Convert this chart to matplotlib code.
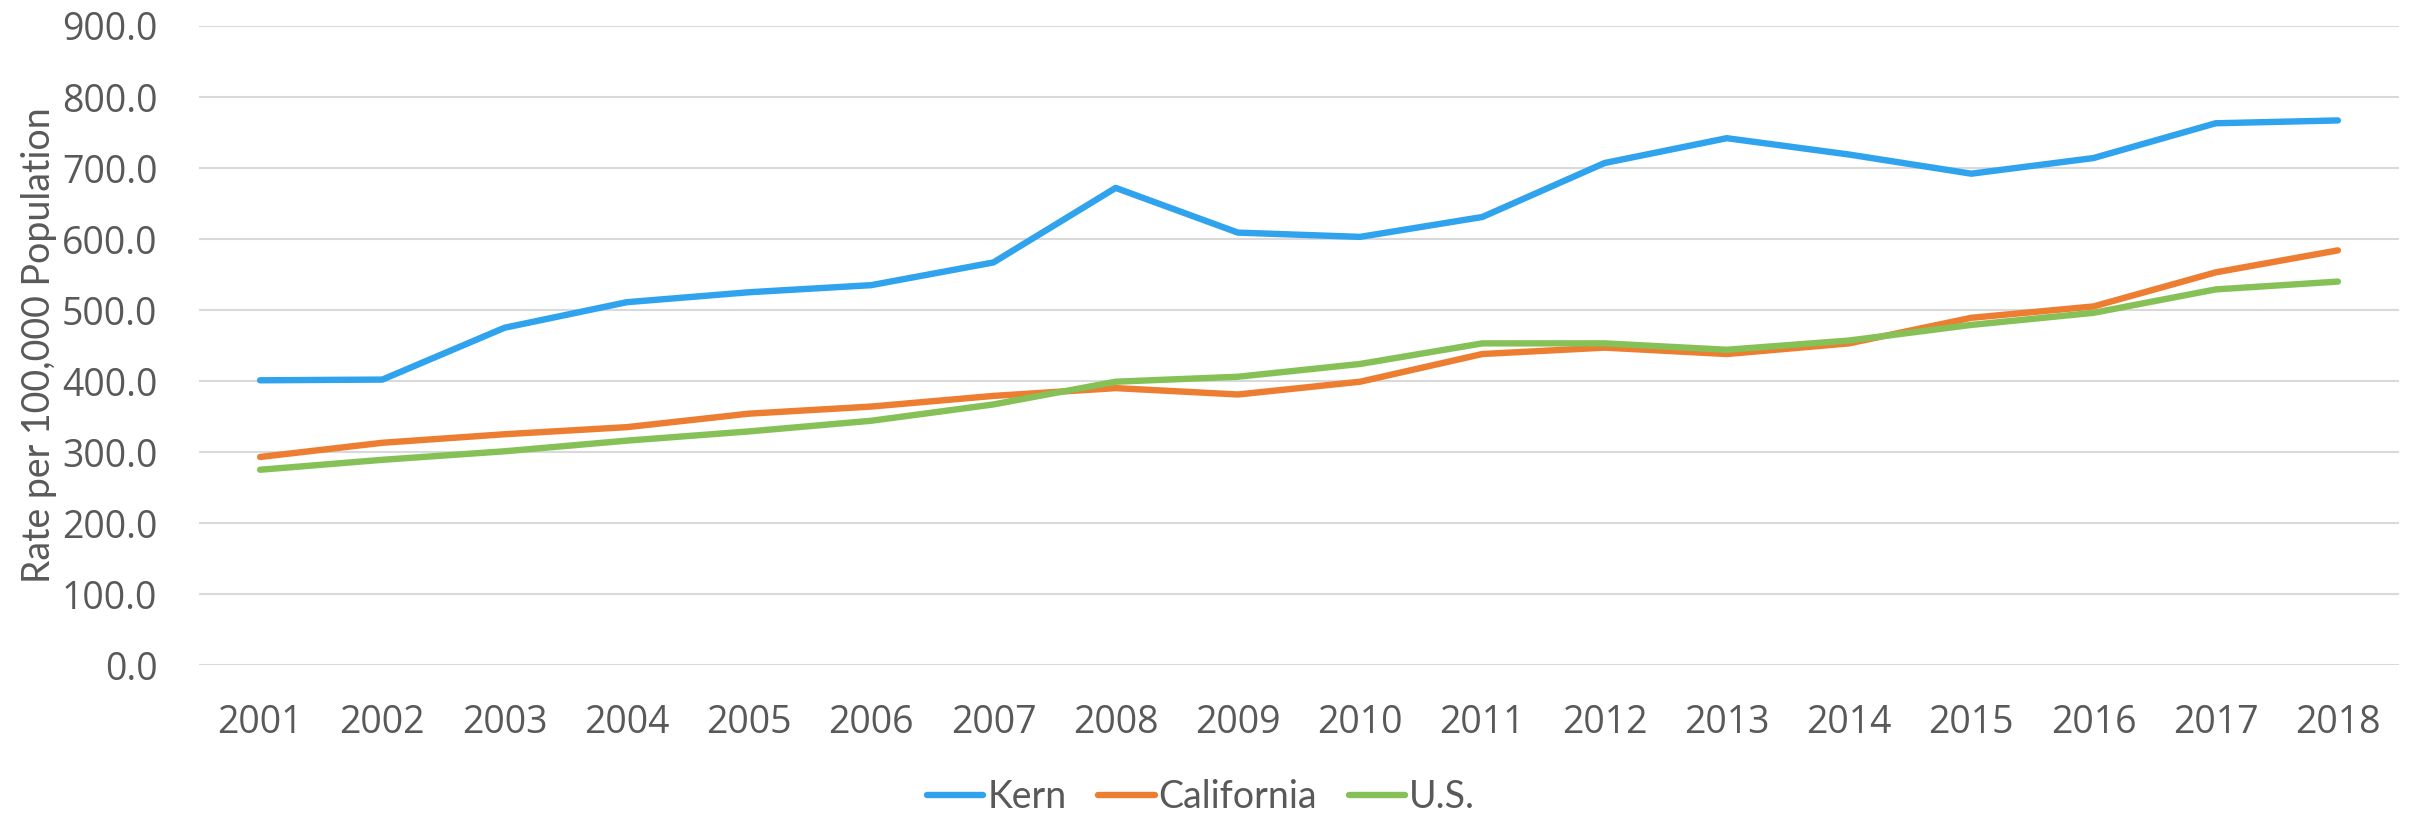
"""
Kern vs California vs U.S. rate chart
"""
import matplotlib
matplotlib.use('Agg')
import matplotlib.pyplot as plt
import matplotlib.transforms as mtransforms
from matplotlib import font_manager

# data
years = ['2001', '2002', '2003', '2004', '2005', '2006', '2007', '2008', '2009',
         '2010', '2011', '2012', '2013', '2014', '2015', '2016', '2017', '2018']
kern = [401, 402, 475, 511, 525, 535, 567, 672, 609,
        603, 631, 707, 742, 719, 692, 714, 763, 767]
california = [293, 313, 325, 335, 354, 364, 379, 390, 381,
              399, 438, 447, 438, 453, 489, 505, 553, 584]
us = [275, 289, 301, 316, 329, 344, 367, 399, 406,
      424, 453, 453, 444, 457, 479, 496, 529, 540]
y_ticks = [0, 100, 200, 300, 400, 500, 600, 700, 800, 900]

names = {f.name for f in font_manager.fontManager.ttflist}
tick_font = 'Open Sans' if 'Open Sans' in names else 'DejaVu Sans'
if 'Liberation Sans Narrow' in names:
    narrow_font = 'Liberation Sans Narrow'
elif 'Lato' in names:
    narrow_font = 'Lato'
else:
    narrow_font = 'DejaVu Sans'

TEXT = '#595959'
GRID = '#D9D9D9'

fig = plt.figure(figsize=(24.2, 8.13), dpi=100)
ax = fig.add_axes([199 / 2420, 1 - 665 / 813, 2200 / 2420, 639 / 813])

x = list(range(len(years)))
ax.plot(x, kern, color='#2FA3EE', lw=4.6, solid_capstyle='round', solid_joinstyle='round', label='Kern')
ax.plot(x, california, color='#ED7D31', lw=4.6, solid_capstyle='round', solid_joinstyle='round', label='California')
ax.plot(x, us, color='#86C157', lw=4.6, solid_capstyle='round', solid_joinstyle='round', label='U.S.')

ax.set_xlim(-0.5, len(years) - 0.5)
ax.set_ylim(0, 900)
ax.set_xticks(x)
ax.set_xticklabels(years)
ax.set_yticks(y_ticks)
ax.set_yticklabels([f'{v:.1f}' for v in y_ticks])

for lab in ax.get_xticklabels() + ax.get_yticklabels():
    lab.set_fontfamily(tick_font)
    lab.set_fontsize(27)
    lab.set_color(TEXT)
ax.tick_params(axis='both', length=0)
ax.tick_params(axis='x', pad=28)
ax.tick_params(axis='y', pad=30)

ax.grid(axis='y', color=GRID, lw=1.5)
ax.set_axisbelow(True)
for s in ax.spines.values():
    s.set_visible(False)

# y 라벨: x는 figure 좌표, y는 axes 좌표
ax.set_ylabel('Rate per 100,000 Population', fontfamily=narrow_font, fontsize=27, color=TEXT)
label_tr = mtransforms.blended_transform_factory(fig.transFigure, ax.transAxes)
ax.yaxis.set_label_coords(39 / 2420, 0.5, transform=label_tr)
ax.yaxis.label.set_verticalalignment('center')

leg = fig.legend(loc='center', bbox_to_anchor=(1201 / 2420, 1 - 797 / 813), ncol=3,
                 frameon=False, handlelength=1.5, handletextpad=0.1, columnspacing=0.85,
                 prop={'family': narrow_font, 'size': 27})
for t in leg.get_texts():
    t.set_color(TEXT)

fig.savefig('out.png', dpi=100)
